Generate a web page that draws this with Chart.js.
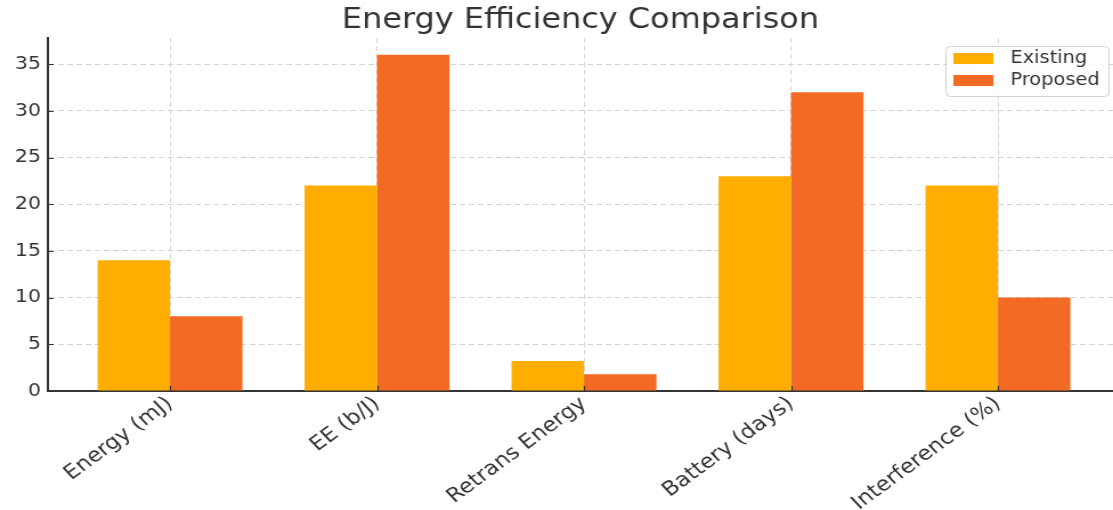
<!DOCTYPE html>
<html>
<head>
<meta charset="utf-8">
<script src="https://cdn.jsdelivr.net/npm/chart.js@4/dist/chart.umd.min.js"></script>
<style>
  html, body { margin: 0; padding: 0; background: #fff; overflow: hidden; }
  /* the figure is laid out narrower and widened to the page width */
  #wrap { width: 976px; height: 510px; transform: scaleX(1.1404); transform-origin: 0 0; }
  #c { display: block; }
</style>
</head>
<body>
<div id="wrap"><canvas id="c" width="976" height="510"></canvas></div>
<script>
// Metrics compared between the two schemes
const categories = ['Energy (mJ)', 'EE (b/J)', 'Retrans Energy', 'Battery (days)', 'Interference (%)'];
const existing = [14, 22, 3.2, 23, 22];
const proposed = [8, 36, 1.8, 32, 10];
const seriesNames = ['Existing', 'Proposed'];
const yTicks = [0, 5, 10, 15, 20, 25, 30, 35];

const FONT = "'DejaVu Sans', sans-serif";
const TEXT = '#333333';
const AXIS = '#333333';
const GRID = '#d4d4d4';
const colors = ['#FFAE00', '#F26A24'];

const toPoints = arr => arr.map((v, i) => ({ x: i, y: v }));

// Short tick marks pointing into the plot area
const inwardTicks = {
  id: 'inwardTicks',
  afterDatasetsDraw(chart) {
    const { ctx, chartArea: a, scales: { x, y } } = chart;
    ctx.save();
    ctx.strokeStyle = AXIS;
    ctx.lineWidth = 1.2;
    ctx.beginPath();
    x.ticks.forEach(t => {
      const px = Math.round(x.getPixelForValue(t.value)) + 0.5;
      ctx.moveTo(px, a.bottom);
      ctx.lineTo(px, a.bottom - 5);
    });
    y.ticks.forEach(t => {
      const py = Math.round(y.getPixelForValue(t.value)) + 0.5;
      ctx.moveTo(a.left, py);
      ctx.lineTo(a.left + 5, py);
    });
    ctx.stroke();
    ctx.restore();
  }
};

// Legend drawn inside the plot, top-right, with a rounded frame
const boxedLegend = {
  id: 'boxedLegend',
  afterDraw(chart) {
    const ctx = chart.ctx;
    const x = 829, y = 46, w = 143, h = 50, r = 4;
    ctx.save();
    ctx.beginPath();
    ctx.roundRect(x + 0.5, y + 0.5, w, h, r);
    ctx.fillStyle = 'rgba(255,255,255,0.85)';
    ctx.fill();
    ctx.strokeStyle = '#d0d0d0';
    ctx.lineWidth = 1;
    ctx.stroke();
    ctx.font = '17px ' + FONT;
    ctx.textBaseline = 'middle';
    chart.data.datasets.forEach((ds, i) => {
      const cy = 58 + i * 22;
      ctx.fillStyle = ds.backgroundColor;
      ctx.fillRect(836, cy - 5, 35, 11);
      ctx.fillStyle = TEXT;
      ctx.fillText(ds.label, 886, cy + 1);
    });
    ctx.restore();
  }
};

new Chart(document.getElementById('c'), {
  type: 'bar',
  data: {
    datasets: [
      { label: seriesNames[0], data: toPoints(existing), backgroundColor: colors[0], borderWidth: 0 },
      { label: seriesNames[1], data: toPoints(proposed), backgroundColor: colors[1], borderWidth: 0 }
    ]
  },
  options: {
    responsive: false,
    animation: false,
    devicePixelRatio: 1,
    categoryPercentage: 0.7,
    barPercentage: 1.0,
    layout: { padding: 0 },
    plugins: {
      legend: { display: false },
      tooltip: { enabled: false },
      title: {
        display: true,
        text: 'Energy Efficiency Comparison',
        color: TEXT,
        fullSize: false,
        font: { family: FONT, size: 28, weight: 'normal', lineHeight: 1.2 },
        padding: { top: 4, bottom: 0.4 }
      }
    },
    scales: {
      x: {
        type: 'linear',
        offset: false,
        min: -0.59,
        max: 4.556,
        afterBuildTicks: s => { s.ticks = categories.map((_, i) => ({ value: i })); },
        afterFit: s => { s.height = 119; },
        ticks: {
          callback: v => categories[v] ?? '',
          color: TEXT,
          font: { family: FONT, size: 20 },
          minRotation: 40,
          maxRotation: 40,
          padding: 1
        },
        grid: {
          offset: false,
          color: GRID,
          lineWidth: 1,
          drawTicks: false
        },
        border: { display: true, color: AXIS, width: 2, dash: [5, 3] }
      },
      y: {
        min: 0,
        max: 37.8,
        afterBuildTicks: s => { s.ticks = yTicks.map(v => ({ value: v })); },
        afterFit: s => { s.width = 42; },
        ticks: {
          color: TEXT,
          font: { family: FONT, size: 18 },
          padding: 6
        },
        grid: {
          color: GRID,
          lineWidth: 1,
          drawTicks: false
        },
        border: { display: true, color: AXIS, width: 2, dash: [5, 3] }
      }
    }
  },
  plugins: [inwardTicks, boxedLegend]
});
</script>
</body>
</html>
